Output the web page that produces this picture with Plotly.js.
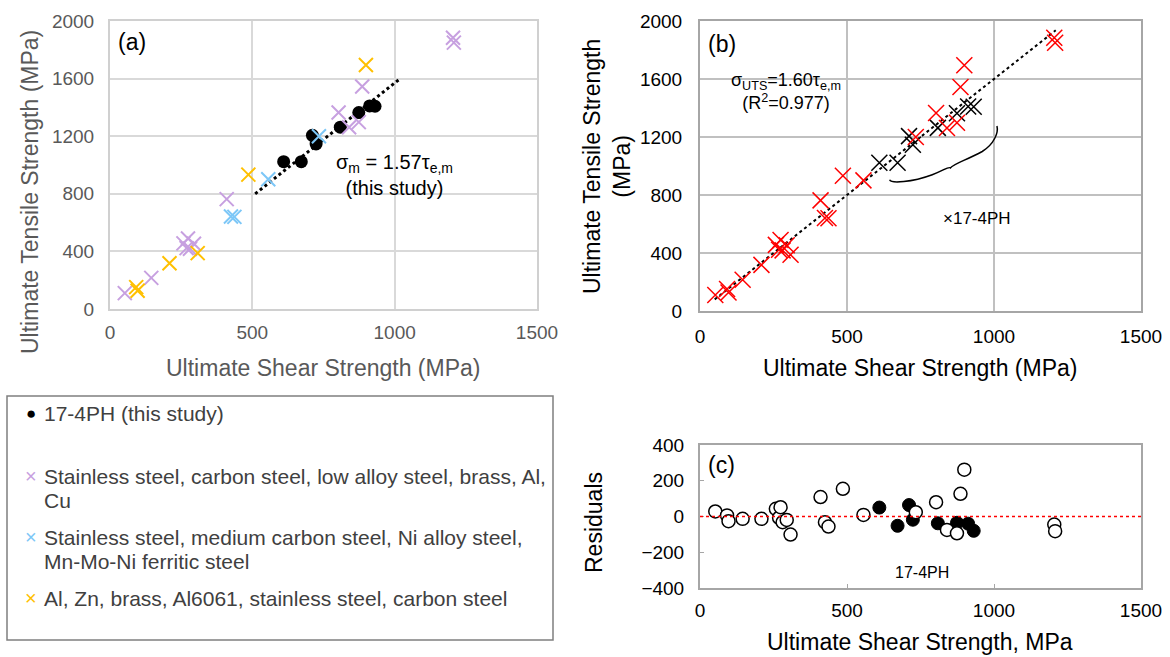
<!DOCTYPE html>
<html><head><meta charset="utf-8">
<script src="https://cdn.plot.ly/plotly-3.0.1.min.js"></script>
<style>html,body{margin:0;padding:0;background:#fff}#chart{width:1170px;height:657px}</style>
</head><body><div id="chart"></div>
<script>
// ---------- data (MPa) ----------
// 17-4PH (this study)
const tau17   = [610, 672, 711, 724, 809, 874, 912, 931];
const sigma17 = [1023, 1023, 1206, 1146, 1263, 1364, 1410, 1408];
const resid17 = [50, -52, 64, -18, -38, -35, -40, -80];
// Stainless steel, carbon steel, low alloy steel, brass, Al, Cu
const tauP   = [52, 145, 258, 269, 274, 281, 295, 410, 803, 840, 874, 886, 1205, 1208];
const sigmaP = [110, 216, 456, 423, 490, 418, 453, 763, 1365, 1262, 1298, 1545, 1884, 1850];
const residP = [28, -13, 43, -7, 52, -32, -19, 109, 80, -75, -94, 127, -45, -82];
// Stainless steel, medium carbon steel, Ni alloy steel, Mn-Mo-Ni ferritic steel
const tauB   = [425, 437, 556, 734];
const sigmaB = [642, 640, 901, 1200];
const residB = [-32, -56, 9, 24];
// Al, Zn, brass, Al6061, stainless steel, carbon steel
const tauY   = [92, 97, 209, 308, 486, 899];
const sigmaY = [152, 127, 318, 388, 933, 1695];
const residY = [6, -26, -13, -101, 155, 262];
// fit lines (end points)
const fitAX = [510, 1020], fitAY = [800, 1601];
const fitBX = [50, 1210],  fitBY = [80, 1936];
// axis ticks
const strengthTicks = [0, 500, 1000, 1500];
const tensileTicks = [0, 400, 800, 1200, 1600, 2000];
const residTicks = [-400, -200, 0, 200, 400];
const legendLines = [
  ["17-4PH (this study)"],
  ["Stainless steel, carbon steel, low alloy steel, brass, Al,", "Cu"],
  ["Stainless steel, medium carbon steel, Ni alloy steel,", "Mn-Mo-Ni ferritic steel"],
  ["Al, Zn, brass, Al6061, stainless steel, carbon steel"]];

// ---------- styling ----------
const W = 1170, H = 657;
const fx = x => x / W, fy = y => 1 - y / H;
const FONT = "Liberation Sans, Arial, sans-serif";
const PURPLE = "#C7A0E0", BLUE = "#7DC7F7", YELLOW = "#FFC000", RED = "#FF0000";

function crosses(x, y, color, size, lw, xa, ya, name) {
  return {x: x, y: y, type: "scatter", mode: "markers", name: name, xaxis: xa, yaxis: ya,
    marker: {symbol: "x-thin", size: size, color: color, line: {color: color, width: lw}},
    hoverinfo: "x+y"};
}
const otherTau = tauP.concat(tauB, tauY);
const otherSig = sigmaP.concat(sigmaB, sigmaY);
const otherRes = residP.concat(residB, residY);

const traces = [
  // (a)
  {x: tau17, y: sigma17, type: "scatter", mode: "markers", name: legendLines[0][0], xaxis: "x", yaxis: "y",
   marker: {symbol: "circle", size: 13, color: "#000"}},
  {x: fitAX, y: fitAY, type: "scatter", mode: "lines", xaxis: "x", yaxis: "y",
   line: {color: "#000", width: 3, dash: "dot"}, hoverinfo: "skip"},
  crosses(tauP, sigmaP, PURPLE, 14, 2, "x", "y", "group 1"),
  crosses(tauB, sigmaB, BLUE, 14, 2, "x", "y", "group 2"),
  crosses(tauY, sigmaY, YELLOW, 14, 2, "x", "y", "group 3"),
  // (b)
  {x: fitBX, y: fitBY, type: "scatter", mode: "lines", xaxis: "x2", yaxis: "y2",
   line: {color: "#000", width: 2, dash: "dot"}, hoverinfo: "skip"},
  crosses(tau17, sigma17, "#000", 16, 1.5, "x2", "y2", "17-4PH"),
  crosses(otherTau, otherSig, RED, 16, 1.5, "x2", "y2", "other"),
  // (c)
  {x: tau17, y: resid17, type: "scatter", mode: "markers", xaxis: "x3", yaxis: "y3",
   marker: {symbol: "circle", size: 13, color: "#000", line: {color: "#000", width: 1}}},
  {x: otherTau, y: otherRes, type: "scatter", mode: "markers", xaxis: "x3", yaxis: "y3",
   marker: {symbol: "circle", size: 13, color: "#fff", line: {color: "#000", width: 1.5}}}
];

function axis(extra) {
  return Object.assign({showgrid: true, zeroline: false, showline: true, mirror: true,
    ticks: "", fixedrange: true, automargin: false,
    tickfont: {family: FONT, size: 19, color: "#000"}}, extra);
}
const A_DOM_X = [fx(110), fx(537)], A_DOM_Y = [fy(309), fy(21)];
const B_DOM_X = [fx(700), fx(1141)], B_DOM_Y = [fy(311), fy(21)];
const C_DOM_X = [fx(700), fx(1141)], C_DOM_Y = [fy(588), fy(445)];

const layout = {
  width: W, height: H, margin: {l: 0, r: 0, t: 0, b: 0},
  paper_bgcolor: "#fff", plot_bgcolor: "#fff", showlegend: false,
  font: {family: FONT, color: "#000"},
  xaxis: axis({domain: A_DOM_X, range: [0, 1500], tickvals: strengthTicks, anchor: "y",
    gridcolor: "#D9D9D9", gridwidth: 2, linecolor: "#D0D0D0", linewidth: 2,
    ticklabelstandoff: 5, tickfont: {family: FONT, size: 19, color: "#595959"}}),
  yaxis: axis({domain: A_DOM_Y, range: [0, 2000], tickvals: tensileTicks, anchor: "x",
    gridcolor: "#D9D9D9", gridwidth: 2, linecolor: "#D0D0D0", linewidth: 2,
    ticklabelstandoff: 10, tickfont: {family: FONT, size: 19, color: "#595959"}}),
  xaxis2: axis({domain: B_DOM_X, range: [0, 1500], tickvals: strengthTicks, anchor: "y2",
    gridcolor: "#C0C0C0", gridwidth: 1.5, linecolor: "#A6A6A6", linewidth: 2, ticklabelstandoff: 7}),
  yaxis2: axis({domain: B_DOM_Y, range: [0, 2000], tickvals: tensileTicks, anchor: "x2",
    gridcolor: "#C0C0C0", gridwidth: 1.5, linecolor: "#A6A6A6", linewidth: 2, ticklabelstandoff: 12}),
  xaxis3: axis({domain: C_DOM_X, range: [0, 1500], tickvals: strengthTicks, anchor: "y3",
    showgrid: false, linecolor: "#A6A6A6", linewidth: 2, ticks: "inside", ticklen: 4, tickcolor: "#A6A6A6",
    ticklabelstandoff: 4}),
  yaxis3: axis({domain: C_DOM_Y, range: [-400, 400], tickvals: residTicks, anchor: "x3",
    showgrid: false, linecolor: "#A6A6A6", linewidth: 2, ticks: "inside", ticklen: 4, tickcolor: "#A6A6A6",
    ticklabelstandoff: 10}),
  shapes: [
    // zero line of residuals
    {type: "line", xref: "x3 domain", yref: "y3", x0: 0, x1: 1, y0: 0, y1: 0,
     line: {color: RED, width: 1.5, dash: "dot"}},
    // curly brace grouping 17-4PH in (b)
    {type: "path", xref: "x2", yref: "y2",
     path: "M 645,905 C 650,878 720,888 790,940 C 830,970 846,1000 852,987 C 860,1012 905,1040 960,1100 C 1000,1150 1016,1230 1010,1276",
     line: {color: "#000", width: 1.5}},
    // legend box
    {type: "rect", xref: "paper", yref: "paper", x0: fx(7), x1: fx(553), y0: fy(640), y1: fy(396),
     line: {color: "#7F7F7F", width: 1.5}, fillcolor: "rgba(0,0,0,0)"}
  ],
  annotations: []
};

function ann(x, y, text, size, color, extra) {
  layout.annotations.push(Object.assign({xref: "paper", yref: "paper", x: fx(x), y: fy(y), text: text,
    xanchor: "center", yanchor: "middle",
    showarrow: false, font: {family: FONT, size: size, color: color || "#000"}}, extra || {}));
}
function annData(xa, ya, x, y, text, size, extra) {
  layout.annotations.push(Object.assign({xref: xa, yref: ya, x: x, y: y, text: text,
    xanchor: "center", yanchor: "middle",
    showarrow: false, font: {family: FONT, size: size, color: "#000"}}, extra || {}));
}
// axis titles
ann(323, 368, "Ultimate Shear Strength (MPa)", 23, "#595959");
ann(30, 192, "Ultimate Tensile Strength (MPa)", 23, "#595959", {textangle: -90});
ann(920, 368, "Ultimate Shear Strength (MPa)", 23, "#000");
ann(607, 167, "Ultimate Tensile Strength<br>(MPa)", 23, "#000", {textangle: -90});
ann(920, 642, "Ultimate Shear Strength, MPa", 23, "#000");
ann(594, 523, "Residuals", 23, "#000", {textangle: -90});
// panel labels and notes
annData("x", "y", 78, 1854, "(a)", 23);
annData("x", "y", 1000, 930, "σ<sub>m</sub> = 1.57τ<sub>e,m</sub><br>(this study)", 20);
annData("x2", "y2", 76, 1843, "(b)", 23);
annData("x2", "y2", 292, 1517, "σ<sub>UTS</sub>=1.60τ<sub>e,m</sub><br>(R<sup>2</sup>=0.977)", 18);
annData("x2", "y2", 942, 640, "×17-4PH", 17);
annData("x3", "y3", 74, 286, "(c)", 23);
annData("x3", "y3", 756, -313, "17-4PH", 16);
// legend entries
const legColors = ["#000", PURPLE, BLUE, YELLOW];
const legSyms = ["●", "×", "×", "×"];
const legY = [[413], [476, 500], [537, 561], [598]];
for (let i = 0; i < 4; i++) {
  ann(31, legY[i][0], legSyms[i], i === 0 ? 17 : 20, legColors[i]);
  legendLines[i].forEach((t, j) =>
    ann(42, legY[i][j], t, 21, "#404040", {xanchor: "left", align: "left"}));
}

Plotly.newPlot("chart", traces, layout, {displayModeBar: false, staticPlot: true});
</script>
</body></html>
